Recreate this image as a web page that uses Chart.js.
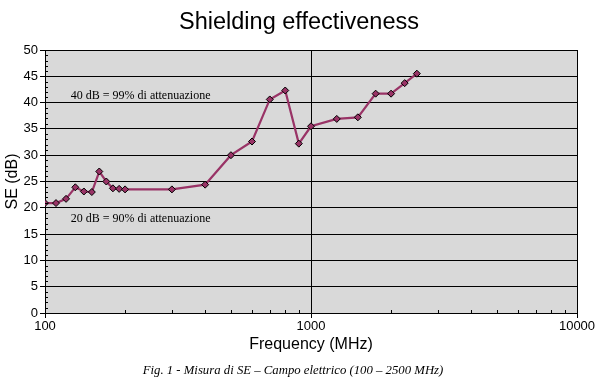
<!DOCTYPE html>
<html><head><meta charset="utf-8">
<script src="https://cdn.jsdelivr.net/npm/chart.js@4/dist/chart.umd.min.js"></script>
<style>html,body{margin:0;padding:0;background:#fff;}canvas{display:block;}</style>
</head><body>
<canvas id="c" width="598" height="382"></canvas>
<script>
// ---- data ----
const frequencies = [100,110,120,130,140,150,160,170,180,190,200,300,400,500,600,700,800,900,1000,1250,1500,1750,2000,2250,2500];
const seValues = [20.9,20.9,21.7,23.9,23.1,23.0,26.9,25.0,23.7,23.6,23.5,23.5,24.4,30.0,32.6,40.6,42.3,32.2,35.5,36.9,37.2,41.7,41.7,43.7,45.5];
const xTickValues = [100,1000,10000];
const xMinorValues = [200,300,400,500,600,700,800,900,2000,3000,4000,5000,6000,7000,8000,9000];
const yMinorValues = [1,2,3,4,6,7,8,9,11,12,13,14,16,17,18,19,21,22,23,24,26,27,28,29,31,32,33,34,36,37,38,39,41,42,43,44,46,47,48,49];
const titleText = 'Shielding effectiveness';
const xTitleText = 'Frequency (MHz)';
const yTitleText = 'SE (dB)';
const captionText = 'Fig. 1 - Misura di SE \u2013 Campo elettrico (100 \u2013 2500 MHz)';
const noteTexts = ['40 dB = 99% di attenuazione','20 dB = 90% di attenuazione'];

const SANS = '"Liberation Sans", Arial, sans-serif';
const SERIF = '"Liberation Serif", "Times New Roman", serif';

const bgPlugin = {
  id:'bg',
  beforeDraw(chart){
    const {ctx, chartArea:a} = chart;
    ctx.save();
    ctx.fillStyle = '#ffffff';
    ctx.fillRect(0,0,chart.width,chart.height);
    ctx.fillStyle = '#d9d9d9';
    ctx.fillRect(a.left,a.top,a.right-a.left,a.bottom-a.top);
    ctx.restore();
  }
};

const extrasPlugin = {
  id:'extras',
  afterDraw(chart, args, opts){
    const {ctx, chartArea:a, scales:{x,y}} = chart;
    ctx.save();
    ctx.strokeStyle = '#000';
    ctx.lineWidth = 1;
    ctx.beginPath();
    xMinorValues.forEach(v=>{
      const px = Math.round(x.getPixelForValue(v))+0.5;
      ctx.moveTo(px, a.bottom); ctx.lineTo(px, a.bottom-3);
    });
    yMinorValues.forEach(v=>{
      const py = Math.round(y.getPixelForValue(v))+0.5;
      ctx.moveTo(a.left, py); ctx.lineTo(a.left+3, py);
    });
    ctx.stroke();
    // notes
    ctx.fillStyle = '#000';
    ctx.font = '12px ' + SERIF;
    ctx.textAlign = 'left';
    ctx.textBaseline = 'middle';
    opts.notes.forEach((n,i)=>{
      ctx.fillText(noteTexts[i], x.getPixelForValue(n.fx), y.getPixelForValue(n.db));
    });
    // caption
    ctx.font = 'italic 12.75px ' + SERIF;
    ctx.textAlign = 'center';
    ctx.fillText(captionText, opts.captionX, opts.captionY);
    ctx.restore();
  }
};

new Chart(document.getElementById('c'), {
  type:'line',
  data:{
    datasets:[{
      data: frequencies.map((f,i)=>({x:f, y:seValues[i]})),
      borderColor:'#993366',
      borderWidth:2.2,
      pointStyle:'rectRot',
      pointRadius:3.5,
      pointBackgroundColor:'#993366',
      pointBorderColor:'#000',
      pointBorderWidth:1,
      tension:0,
      fill:false
    }]
  },
  options:{
    responsive:false,
    animation:false,
    devicePixelRatio:1,
    layout:{padding:{left:0,right:0,top:0,bottom:23.4}},
    plugins:{
      legend:{display:false},
      tooltip:{enabled:false},
      title:{display:true, text:titleText, color:'#000',
        font:{family:SANS, size:23.5, weight:'normal'}, padding:{top:8,bottom:13.8}},
      extras:{ notes:[{fx:125, db:41.3},{fx:125, db:17.9}], captionX:293, captionY:371 }
    },
    scales:{
      x:{
        type:'logarithmic', min:100, max:10000, position:'bottom',
        afterBuildTicks(s){ s.ticks = xTickValues.map(v=>({value:v})); },
        afterFit(s){ s.height = 45.6; s.paddingRight = 21; },
        ticks:{ color:'#000', font:{family:SANS, size:13}, padding:1, maxRotation:0, autoSkip:false,
          callback:(v)=>String(v) },
        grid:{ color:'#000', lineWidth:1, tickLength:5 },
        border:{ color:'#000', width:1 },
        title:{ display:true, text:xTitleText, color:'#000', font:{family:SANS, size:16}, padding:{top:0,bottom:4} }
      },
      y:{
        min:0, max:50,
        afterFit(s){ s.width = 45; },
        ticks:{ stepSize:5, color:'#000', font:{family:SANS, size:13}, padding:2 },
        grid:{ color:'#000', lineWidth:1, tickLength:5 },
        border:{ color:'#000', width:1 },
        title:{ display:true, text:yTitleText, color:'#000', font:{family:SANS, size:16}, padding:{top:3,bottom:0} }
      }
    }
  },
  plugins:[bgPlugin, extrasPlugin]
});
</script>
</body></html>
